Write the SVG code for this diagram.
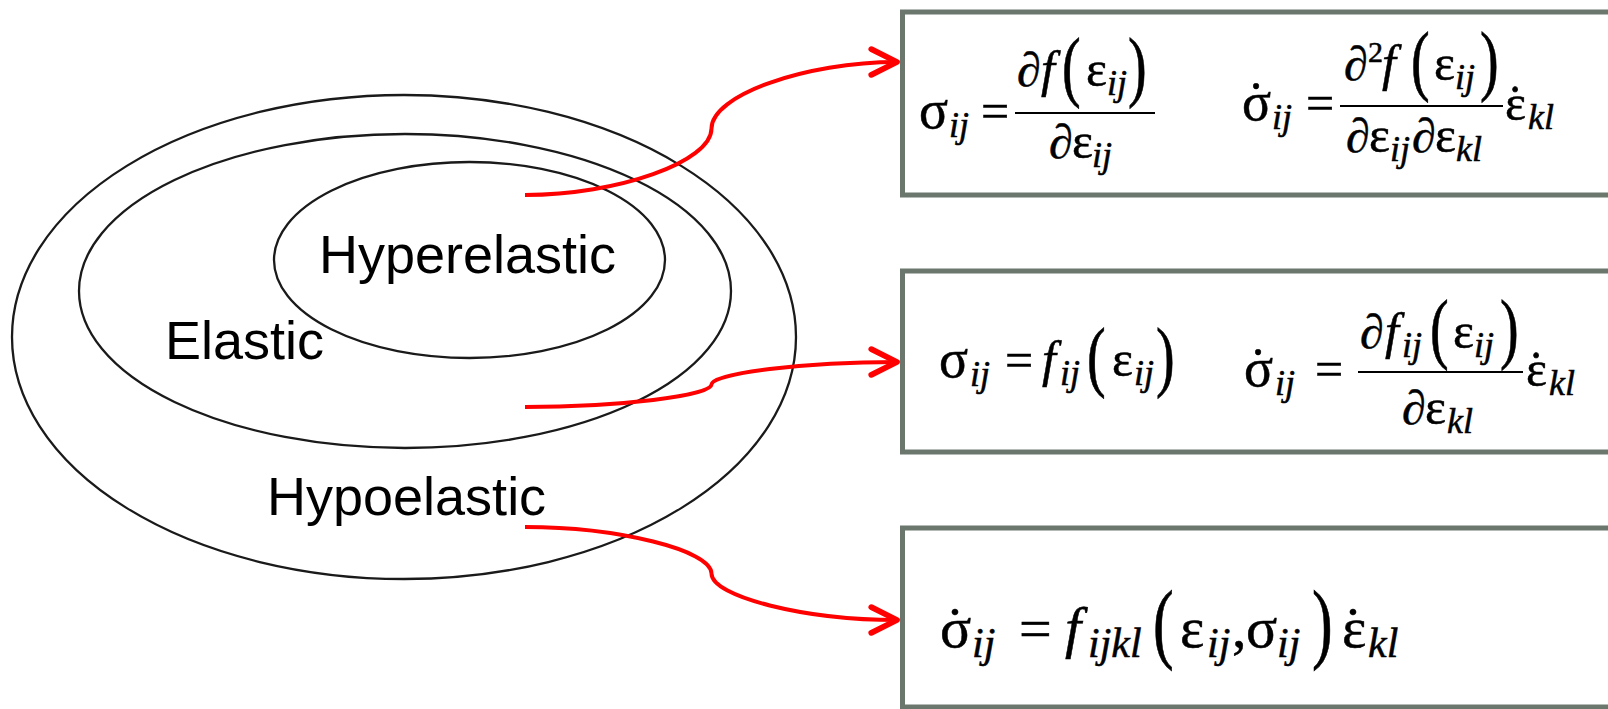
<svg xmlns="http://www.w3.org/2000/svg" width="1608" height="709" viewBox="0 0 1608 709">
<style>
.ell{fill:none;stroke:#1a1a1a;stroke-width:2.3}
.lbl{font-family:"Liberation Sans",Arial,sans-serif;font-size:54px;fill:#000}
.box{fill:#fff;stroke:#6b766d;stroke-width:5}
.conn{fill:none;stroke:#ff0000;stroke-width:4;marker-end:url(#arr)}
.m{font-family:"Liberation Serif","Times New Roman","DejaVu Serif",serif;font-size:50px;fill:#000}
.m text{stroke:#000;stroke-width:0.5}
.g{font-size:54px}
.d{font-size:48px}
.m3{font-size:58px}
.s{font-size:36px;font-style:italic}
.s3{font-size:42px;font-style:italic}
.it{font-style:italic}
.p{font-size:56px;stroke-width:0.3}
.p3{font-size:62px}
.sup{font-size:30px}
.dot{text-anchor:middle}
.fb{stroke:#000;stroke-width:2.2}
</style>
<defs>
<marker id="arr" markerUnits="userSpaceOnUse" markerWidth="40" markerHeight="40" viewBox="-24 -14 28 28" refX="0" refY="0" orient="auto" overflow="visible">
<path d="M-18,-9 L0,0 L-18,9" fill="none" stroke="#ff0000" stroke-width="4" stroke-linecap="round" stroke-linejoin="round"/>
</marker>
</defs>
<rect width="1608" height="709" fill="#fff"/>

<g id="hypoelastic">
<ellipse class="ell" cx="404" cy="337" rx="392" ry="242"/>
<text class="lbl" x="267" y="515">Hypoelastic</text>
</g>
<g id="elastic">
<ellipse class="ell" cx="405" cy="291" rx="326" ry="157"/>
<text class="lbl" x="165" y="359">Elastic</text>
</g>
<g id="hyperelastic">
<ellipse class="ell" cx="469.5" cy="260" rx="195.5" ry="98"/>
<text class="lbl" x="319" y="273">Hyperelastic</text>
</g>

<g id="box-hyper" class="m">
<rect class="box" x="902.5" y="12" width="760" height="183"/>
<text class="g" x="919" y="128">σ</text>
<text class="s" x="949" y="137">ij</text>
<text x="981" y="128">=</text>
<line class="fb" x1="1015" y1="113" x2="1155" y2="113"/>
<text class="d" x="1017" y="86">∂</text>
<text class="it" x="1041" y="86">f</text>
<text class="p" transform="translate(1062,92) scale(1,1.4)">(</text>
<text x="1086" y="86">ε</text>
<text class="s" x="1107" y="95">ij</text>
<text class="p" transform="translate(1128,92) scale(1,1.4)">)</text>
<text class="d" x="1049" y="158">∂</text>
<text x="1072" y="158">ε</text>
<text class="s" x="1092" y="167">ij</text>

<text class="g" x="1242" y="120">σ</text>
<text class="g dot" x="1256" y="120">˙</text>
<text class="s" x="1272" y="129">ij</text>
<text x="1306" y="120">=</text>
<line class="fb" x1="1340" y1="106" x2="1503" y2="106"/>
<text class="d" x="1344" y="80">∂</text>
<text class="sup" x="1368" y="62">2</text>
<text class="it" x="1382" y="80">f</text>
<text class="p" transform="translate(1411,86) scale(1,1.4)">(</text>
<text x="1434" y="80">ε</text>
<text class="s" x="1455" y="89">ij</text>
<text class="p" transform="translate(1480,86) scale(1,1.4)">)</text>
<text class="d" x="1346" y="152">∂</text>
<text x="1369" y="152">ε</text>
<text class="s" x="1390" y="161">ij</text>
<text class="d" x="1412" y="152">∂</text>
<text x="1435" y="152">ε</text>
<text class="s" x="1456" y="161">kl</text>
<text x="1505" y="120">ε</text>
<text class="dot" x="1515" y="120">˙</text>
<text class="s" x="1528" y="129">kl</text>
</g>

<g id="box-elastic" class="m">
<rect class="box" x="902.5" y="271" width="760" height="181"/>
<text class="g" x="939" y="377">σ</text>
<text class="s" x="970" y="386">ij</text>
<text x="1005" y="377">=</text>
<text class="it" x="1042" y="376">f</text>
<text class="s" x="1060" y="385">ij</text>
<text class="p" transform="translate(1087,382) scale(1,1.4)">(</text>
<text x="1112" y="376">ε</text>
<text class="s" x="1134" y="385">ij</text>
<text class="p" transform="translate(1156,382) scale(1,1.4)">)</text>

<text class="g" x="1244" y="386">σ</text>
<text class="g dot" x="1258" y="386">˙</text>
<text class="s" x="1275" y="395">ij</text>
<text x="1315" y="386">=</text>
<line class="fb" x1="1358" y1="372" x2="1523" y2="372"/>
<text class="d" x="1360" y="348">∂</text>
<text class="it" x="1385" y="348">f</text>
<text class="s" x="1402" y="357">ij</text>
<text class="p" transform="translate(1430,354) scale(1,1.4)">(</text>
<text x="1453" y="348">ε</text>
<text class="s" x="1474" y="357">ij</text>
<text class="p" transform="translate(1500,354) scale(1,1.4)">)</text>
<text class="d" x="1402" y="424">∂</text>
<text x="1425" y="424">ε</text>
<text class="s" x="1447" y="433">kl</text>
<text x="1526" y="386">ε</text>
<text class="dot" x="1536" y="386">˙</text>
<text class="s" x="1549" y="395">kl</text>
</g>

<g id="box-hypo" class="m">
<rect class="box" x="902.5" y="528" width="760" height="179"/>
<text class="m3" x="940" y="647">σ</text>
<text class="m3 dot" x="955" y="647">˙</text>
<text class="s3" x="972" y="657">ij</text>
<text class="m3" x="1019" y="648">=</text>
<text class="m3 it" x="1065" y="647">f</text>
<text class="s3" x="1088" y="657">ijkl</text>
<text class="p p3" transform="translate(1153,652) scale(1,1.45)">(</text>
<text class="m3" x="1180" y="647">ε</text>
<text class="s3" x="1207" y="657">ij</text>
<text class="m3" x="1232" y="647">,</text>
<text class="m3" x="1246" y="647">σ</text>
<text class="s3" x="1277" y="657">ij</text>
<text class="p p3" transform="translate(1312,652) scale(1,1.45)">)</text>
<text class="m3" x="1342" y="647">ε</text>
<text class="m3 dot" x="1353" y="647">˙</text>
<text class="s3" x="1368" y="657">kl</text>
</g>

<g id="connectors">
<path class="conn" d="M525,195 C618,195 711.5,161.75 711.5,128.5 C711.5,95.25 805,62 897,62"/>
<path class="conn" d="M525,407 C618,407 711.5,395.75 711.5,384.5 C711.5,373.25 805,362 897,362"/>
<path class="conn" d="M525,527 C618,527 711.5,550.25 711.5,573.5 C711.5,596.75 805,620 897,620"/>
</g>
</svg>
